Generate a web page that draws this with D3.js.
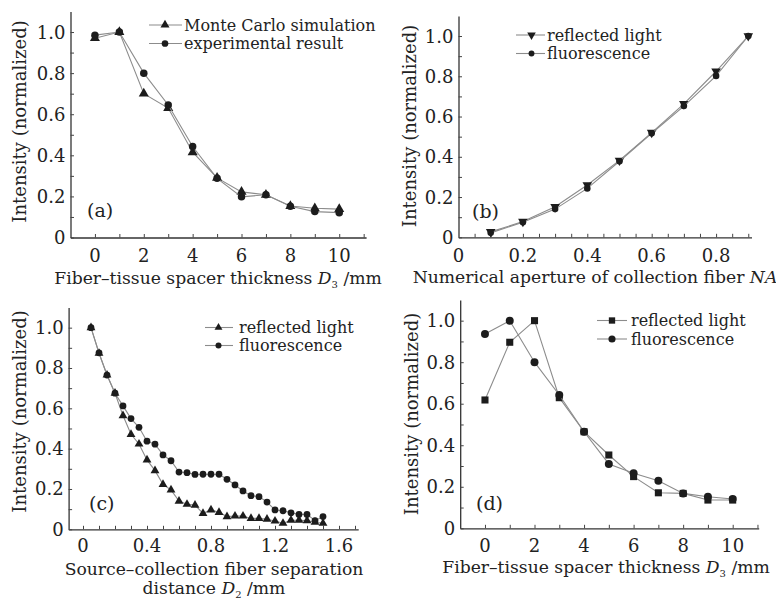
<!DOCTYPE html>
<html>
<head>
<meta charset="utf-8">
<script src="https://cdn.jsdelivr.net/npm/d3@7"></script>
<style>
  body { margin: 0; background: #fff; }
  text { font-family: "DejaVu Serif", serif; fill: #222; }
</style>
</head>
<body>
<div id="chart"></div>
<script>
"use strict";

// (a) spacer thickness, simulation vs experiment
const aX = [0, 1, 2, 3, 4, 5, 6, 7, 8, 9, 10];
const aMonteCarlo = [0.97, 1.0, 0.70, 0.63, 0.415, 0.29, 0.222, 0.208, 0.153, 0.142, 0.138];
const aExperiment = [0.985, 1.0, 0.80, 0.645, 0.443, 0.288, 0.198, 0.208, 0.152, 0.126, 0.121];

// (b) numerical aperture
const bX = [0.1, 0.2, 0.3, 0.4, 0.5, 0.6, 0.7, 0.8, 0.9];
const bReflected = [0.027, 0.078, 0.152, 0.26, 0.382, 0.52, 0.663, 0.825, 1.0];
const bFluorescence = [0.022, 0.075, 0.14, 0.243, 0.378, 0.517, 0.652, 0.802, 1.0];

// (c) source-collection separation
const cX = [0.05, 0.10, 0.15, 0.20, 0.25, 0.30, 0.35, 0.40, 0.45, 0.50,
            0.55, 0.60, 0.65, 0.70, 0.75, 0.80, 0.85, 0.90, 0.95, 1.00,
            1.05, 1.10, 1.15, 1.20, 1.25, 1.30, 1.35, 1.40, 1.45, 1.50];
const cReflected = [1.0, 0.873, 0.765, 0.675, 0.564, 0.471, 0.423, 0.344, 0.291, 0.223,
                    0.195, 0.14, 0.124, 0.12, 0.079, 0.096, 0.084, 0.063, 0.066, 0.066,
                    0.054, 0.054, 0.05, 0.041, 0.03, 0.045, 0.045, 0.043, 0.035, 0.03];
const cFluorescence = [1.0, 0.875, 0.765, 0.675, 0.612, 0.549, 0.506, 0.437, 0.422, 0.369,
                       0.340, 0.284, 0.281, 0.272, 0.273, 0.273, 0.273, 0.248, 0.22, 0.19,
                       0.167, 0.162, 0.135, 0.096, 0.092, 0.082, 0.074, 0.074, 0.043, 0.063];

// (d) spacer thickness, reflected vs fluorescence
const dX = [0, 1, 2, 3, 4, 5, 6, 7, 8, 9, 10];
const dReflected = [0.618, 0.896, 1.0, 0.629, 0.465, 0.353, 0.249, 0.171, 0.168, 0.136, 0.136];
const dFluorescence = [0.936, 1.0, 0.80, 0.642, 0.465, 0.31, 0.265, 0.229, 0.168, 0.152, 0.141];

const yTicks = d3.range(0, 11).map(i => i / 10);
const yLabels = [0, 0.2, 0.4, 0.6, 0.8, 1.0];

const lineColor = "#8c8c8c";
const markColor = "#1c1c1c";

let svgContainer = d3.select("#chart")
    .append("svg")
    .attr("width", 776)
    .attr("height", 599);

const panels = [
    {
        tag: "(a)", tagPos: [87, 217],
        xDomain: [-1, 11.1], xRange: [70.5, 366.1],
        yRange: [237.5, 11.5],
        xTicks: d3.range(0, 12), xLabels: [0, 2, 4, 6, 8, 10], xFmt: d3.format("d"),
        xTitle: [["Fiber\u2013tissue spacer thickness ", "D", "3", " /mm"]], xTitleX: 218, xTitleY: [284],
        labelY: 262,
        yTitleX: 26, yTitleY: 121.5,
        x: aX,
        series: [
            { name: "Monte Carlo simulation", values: aMonteCarlo, shape: "tri", size: 44 },
            { name: "experimental result", values: aExperiment, shape: "circle", size: 44 }
        ],
        legend: { x1: 149, x2: 182, mx: 165, tx: 184, rows: [25, 43.5] }
    },
    {
        tag: "(b)", tagPos: [472, 218],
        xDomain: [0, 0.91], xRange: [458.5, 751.5],
        yRange: [237.3, 15.9],
        xTicks: d3.range(1, 19).map(i => i * 0.05), xLabels: [0, 0.2, 0.4, 0.6, 0.8], xFmt: null,
        xTitle: [["Numerical aperture of collection fiber ", "NA"]], xTitleX: 595, xTitleY: [283],
        labelY: 262,
        yTitleX: 416, yTitleY: 126,
        x: bX,
        series: [
            { name: "reflected light", values: bReflected, shape: "dtri", size: 40 },
            { name: "fluorescence", values: bFluorescence, shape: "circle", size: 34 }
        ],
        legend: { x1: 516, x2: 545, mx: 531.5, tx: 547, rows: [35, 53.5] }
    },
    {
        tag: "(c)", tagPos: [89, 510],
        xDomain: [-0.09, 1.72], xRange: [68.6, 358.2],
        yRange: [529.3, 307.5],
        xTicks: d3.range(0, 18).map(i => i / 10), xLabels: [0, 0.4, 0.8, 1.2, 1.6], xFmt: null,
        xTitle: [["Source\u2013collection fiber separation"], ["distance ", "D", "2", " /mm"]],
        xTitleX: 214, xTitleY: [575, 594],
        labelY: 552,
        yTitleX: 26, yTitleY: 411.5,
        x: cX,
        series: [
            { name: "reflected light", values: cReflected, shape: "tri", size: 34 },
            { name: "fluorescence", values: cFluorescence, shape: "circle", size: 36 }
        ],
        legend: { x1: 205, x2: 233, mx: 218.5, tx: 239, rows: [327.5, 345.5] }
    },
    {
        tag: "(d)", tagPos: [476, 510],
        xDomain: [-1, 11.05], xRange: [460.2, 758.7],
        yRange: [528.3, 299.9],
        xTicks: d3.range(0, 12), xLabels: [0, 2, 4, 6, 8, 10], xFmt: d3.format("d"),
        xTitle: [["Fiber\u2013tissue spacer thickness ", "D", "3", " /mm"]], xTitleX: 606, xTitleY: [573],
        labelY: 552,
        yTitleX: 418, yTitleY: 414,
        x: dX,
        series: [
            { name: "reflected light", values: dReflected, shape: "square", size: 50 },
            { name: "fluorescence", values: dFluorescence, shape: "circle", size: 50 }
        ],
        legend: { x1: 597, x2: 627, mx: 612, tx: 631, rows: [320.5, 339] }
    }
];

panels.forEach(p => drawPanel(p));

function symbolPath(shape, size) {
    let type = d3.symbolCircle;
    if (shape === "tri" || shape === "dtri") type = d3.symbolTriangle;
    if (shape === "square") type = d3.symbolSquare;
    return d3.symbol().type(type).size(size)();
}

function fmt(d) {
    return d === 0 ? "0" : d.toFixed(1);
}

// one sub-chart: axes, lines, markers, legend and titles
function drawPanel(p) {
    let g = svgContainer.append("g");

    let xScale = d3.scaleLinear().domain(p.xDomain).range(p.xRange);
    let yScale = d3.scaleLinear().domain([0, 1.1]).range(p.yRange);

    let xAxis = d3.axisBottom(xScale)
        .tickValues(p.xTicks)
        .tickSizeInner(-3.5)
        .tickSizeOuter(0)
        .tickFormat("");
    let gx = g.append("g")
        .attr("transform", "translate(0," + p.yRange[0] + ")")
        .call(xAxis);

    let yAxis = d3.axisLeft(yScale)
        .tickValues(yTicks)
        .tickSizeInner(-3.5)
        .tickSizeOuter(0)
        .tickFormat("");
    let gy = g.append("g")
        .attr("transform", "translate(" + p.xRange[0] + ",0)")
        .call(yAxis);

    [gx, gy].forEach(a => {
        a.select(".domain").attr("stroke", "#333").attr("stroke-width", 1.3);
        a.selectAll(".tick line").attr("stroke", "#444").attr("stroke-width", 1);
    });

    // tick labels
    g.selectAll(".xlab")
        .data(p.xLabels)
        .enter()
        .append("text")
        .attr("x", d => xScale(d))
        .attr("y", p.labelY)
        .attr("text-anchor", "middle")
        .style("font-size", "18px")
        .text(p.xFmt || fmt);

    g.selectAll(".ylab")
        .data(yLabels)
        .enter()
        .append("text")
        .attr("x", p.xRange[0] - 5)
        .attr("y", d => yScale(d) + 6.5)
        .attr("text-anchor", "end")
        .style("font-size", "18px")
        .text(fmt);

    // axis titles
    p.xTitle.forEach((parts, i) => {
        let t = g.append("text")
            .attr("x", p.xTitleX)
            .attr("y", p.xTitleY[i])
            .attr("text-anchor", "middle")
            .style("font-size", "17.2px");
        if (parts.length === 1) {
            t.text(parts[0]);
        } else if (parts.length === 2) {
            t.append("tspan").text(parts[0]);
            t.append("tspan").style("font-style", "italic").text(parts[1]);
        } else {
            t.append("tspan").text(parts[0]);
            t.append("tspan").style("font-style", "italic").text(parts[1]);
            t.append("tspan").attr("dy", 4).style("font-size", "10px").text(parts[2]);
            t.append("tspan").attr("dy", -4).text(parts[3]);
        }
    });

    g.append("text")
        .attr("transform", "translate(" + p.yTitleX + "," + p.yTitleY + ") rotate(-90)")
        .attr("text-anchor", "middle")
        .style("font-size", "18px")
        .text("Intensity (normalized)");

    g.append("text")
        .attr("x", p.tagPos[0])
        .attr("y", p.tagPos[1])
        .style("font-size", "19px")
        .text(p.tag);

    // series
    let line = d3.line()
        .x((d, i) => xScale(p.x[i]))
        .y(d => yScale(d));

    p.series.forEach(s => {
        g.append("path")
            .datum(s.values)
            .attr("fill", "none")
            .attr("stroke", lineColor)
            .attr("stroke-width", 1.1)
            .attr("d", line);

        g.selectAll(null)
            .data(s.values)
            .enter()
            .append("path")
            .attr("d", symbolPath(s.shape, s.size))
            .attr("transform", (d, i) => "translate(" + xScale(p.x[i]) + "," + yScale(d) + ")" +
                (s.shape === "dtri" ? " rotate(180)" : ""))
            .attr("fill", markColor);
    });

    // legend
    p.series.forEach((s, i) => {
        let ly = p.legend.rows[i];
        g.append("line")
            .attr("x1", p.legend.x1).attr("x2", p.legend.x2)
            .attr("y1", ly).attr("y2", ly)
            .attr("stroke", lineColor)
            .attr("stroke-width", 1.1);
        g.append("path")
            .attr("d", symbolPath(s.shape, s.size * 0.8))
            .attr("transform", "translate(" + p.legend.mx + "," + ly + ")" +
                (s.shape === "dtri" ? " rotate(180)" : ""))
            .attr("fill", markColor);
        g.append("text")
            .attr("x", p.legend.tx)
            .attr("y", ly + 5.5)
            .style("font-size", "16px")
            .text(s.name);
    });
}
</script>
</body>
</html>
